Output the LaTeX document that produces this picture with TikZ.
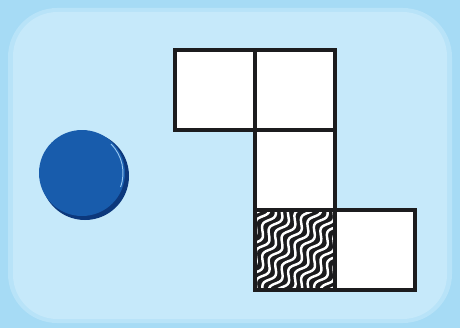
\documentclass[tikz,border=0pt]{standalone}
\usepackage{tikz}
\usetikzlibrary{positioning, calc}
\definecolor{panelblue}{RGB}{166,219,245}
\definecolor{panellight}{RGB}{198,233,250}
\definecolor{panelmid}{RGB}{184,227,248}
\definecolor{coinblue}{RGB}{24,92,172}
\definecolor{coindark}{RGB}{12,56,124}
\definecolor{coinshine}{RGB}{150,198,240}
\definecolor{gridblack}{RGB}{28,28,30}
\tikzset{
  %% ---- cells ----
  cell/.style    = {rectangle, draw=gridblack, line width=2.6pt,
                    fill=white, minimum size=2.4cm, outer sep=0pt,
                    inner sep=0pt},
  wavecell/.style= {cell, fill=gridblack},
  %% ---- stripes ----
  wave/.style    = {white, line width=2.1pt, line cap=round},
}

\begin{document}
\begin{tikzpicture}[x=0.03cm, y=0.03cm]

  %% panel
  \useasboundingbox (0,0) rectangle (460,328);
  \fill[panelblue] (0,0) rectangle (460,328);
  \fill[panelmid, rounded corners=42] (8,5) rectangle (452,320);
  \fill[panellight, rounded corners=38] (13,9) rectangle (447,316);

  %% coin
  \fill[coindark] (85,152) circle (44);
  \fill[coinblue] (82,155) circle (43);
  \draw[coinshine, line width=0.8pt] ([shift={(-20:41)}]82,155) arc (-20:45:41);

  %% cells
  \node[cell] (c1) at (215,238) {};
  \node[cell, right=0pt of c1] (c2) {};
  \node[cell, below=0pt of c2] (c3) {};
  \node[wavecell, below=0pt of c3] (c4) {};
  \node[cell, right=0pt of c4] (c5) {};

  %% wavy stripes
  \begin{scope}
    \clip (c4.south west) rectangle (c4.north east);
    \begin{scope}[shift={(c4.center)}, rotate=60]
      \foreach \k in {-67.5,-60,...,67.5}
        \draw[wave] plot[domain=-70:70, samples=70, smooth]
          (\x, {\k + 3.4*sin(\x*14)});
    \end{scope}
  \end{scope}
  \node[cell, fill=none] at (c4) {};

\end{tikzpicture}
\end{document}
